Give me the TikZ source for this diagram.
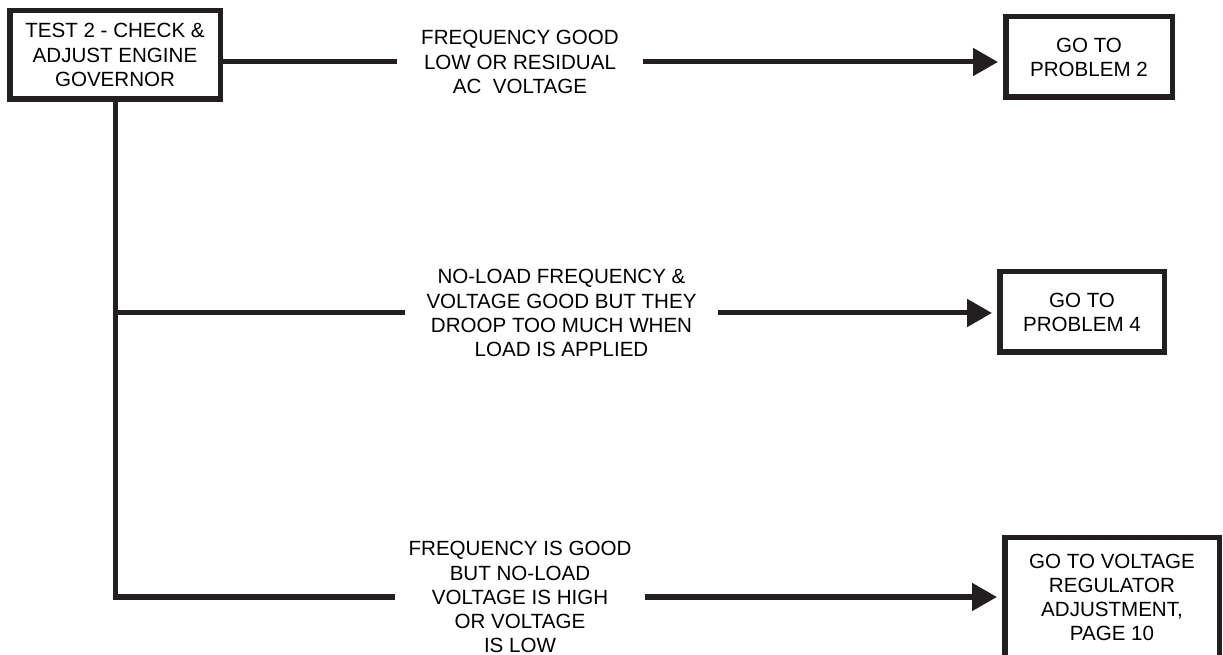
\documentclass[tikz,border=0pt]{standalone}
\usepackage{fontspec}
\setmainfont{Liberation Sans}
\usetikzlibrary{arrows.meta}
\definecolor{ink}{HTML}{231F20}

\begin{document}
\begin{tikzpicture}[
  box/.style={
    rectangle, draw=ink, line width=0.11cm,
    align=center, inner sep=0pt,
    font=\fontsize{11.7}{13.7}\selectfont
  },
  cond/.style={
    align=center, inner sep=0pt,
    font=\fontsize{11.7}{13.7}\selectfont
  },
  link/.style={draw=ink, line width=0.1cm},
  arrow/.style={link, -{Triangle[length=0.5cm, width=0.54cm]}, shorten >=0.1cm},
]

%% Canvas
\useasboundingbox (0,0) rectangle (24.46,13.08);
\clip (0,0) rectangle (24.46,13.08);

%% Start box
\node[box, minimum width=4.21cm, minimum height=1.77cm] (gov) at (2.30, 11.98)
  {TEST 2 - CHECK \&\\ ADJUST ENGINE\\ GOVERNOR};

%% Conditions
\node[cond, minimum width=4.92cm] (toplbl) at (10.40, 11.84)
  {FREQUENCY GOOD\\ LOW OR RESIDUAL\\ AC\ \ VOLTAGE};
\node[cond, minimum width=6.26cm] (midlbl) at (11.23, 6.82)
  {NO-LOAD FREQUENCY \&\\ VOLTAGE GOOD BUT THEY\\ DROOP TOO MUCH WHEN\\ LOAD IS APPLIED};
\node[cond, minimum width=5.00cm] (lowlbl) at (10.40, 1.14)
  {FREQUENCY IS GOOD\\ BUT NO-LOAD\\ VOLTAGE IS HIGH\\ OR VOLTAGE\\ IS LOW};

%% Targets
\node[box, minimum width=3.33cm, minimum height=1.61cm] (prob2) at (21.78, 11.94)
  {GO TO\\ PROBLEM 2};
\node[box, minimum width=3.29cm, minimum height=1.61cm] (prob4) at (21.64, 6.84)
  {GO TO\\ PROBLEM 4};
\node[box, minimum width=4.29cm, minimum height=2.39cm] (regadj) at (22.24, 1.13)
  {GO TO VOLTAGE\\ REGULATOR\\ ADJUSTMENT,\\ PAGE 10};

%% Connectors
\draw[link] (gov.east |- toplbl.west) -- (toplbl.west);
\draw[link] (gov.south) |- (lowlbl.west);
\draw[link] (gov.south |- midlbl.west) -- (midlbl.west);

\draw[arrow] (toplbl.east) -- (toplbl.east -| prob2.west);
\draw[arrow] (midlbl.east) -- (midlbl.east -| prob4.west);
\draw[arrow] (lowlbl.east) -- (lowlbl.east -| regadj.west);

\end{tikzpicture}
\end{document}
